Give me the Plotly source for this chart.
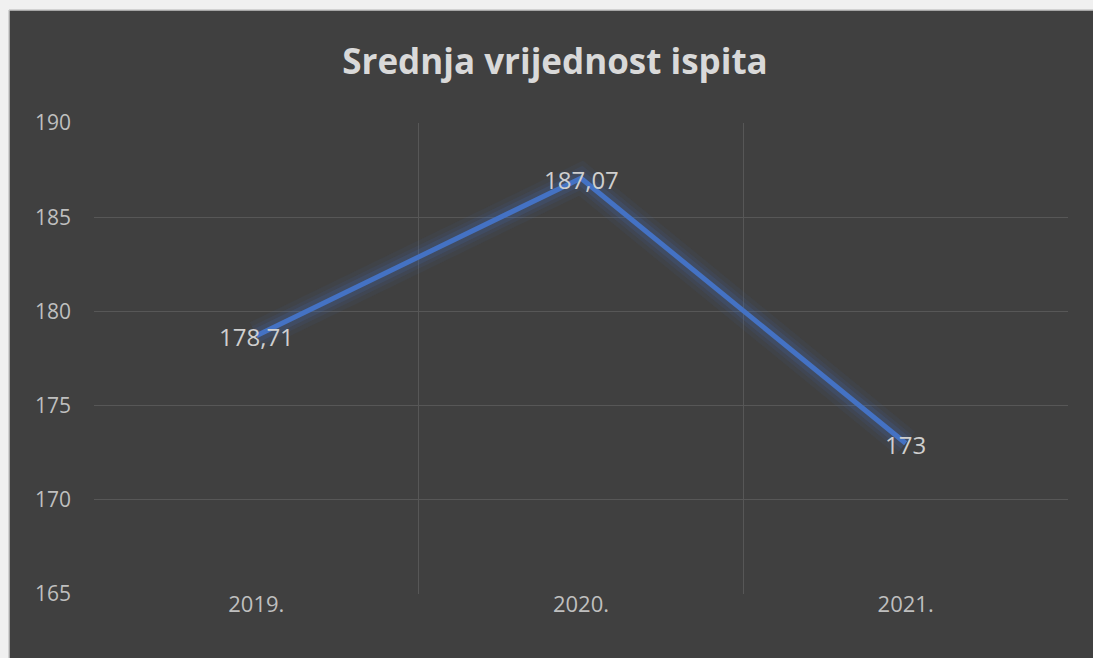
import plotly.graph_objects as go

categories = ["2019.", "2020.", "2021."]
values = [178.71, 187.07, 173]
y_ticks = [165, 170, 175, 180, 185, 190]
y_grid = [170, 175, 180, 185, 190]

title_text = "Srednja vrijednost ispita"
labels = [f"{v:g}".replace(".", ",") for v in values]
xpos = list(range(len(categories)))
x_bounds = [i - 0.5 for i in range(len(categories) + 1)]

BG = "#404040"
LINE = "#4472C4"
TXT = "#bfbfbf"
FONT = "Open Sans"

fig = go.Figure()
# glow layers
for w, a in [(30, 0.06), (21, 0.09), (14, 0.15)]:
    fig.add_trace(go.Scatter(x=xpos, y=values, mode="lines",
                             line=dict(color=f"rgba(68,114,196,{a})", width=w),
                             hoverinfo="skip", showlegend=False))
fig.add_trace(go.Scatter(x=xpos, y=values, mode="lines",
                         line=dict(color=LINE, width=5),
                         showlegend=False))
for xv, yv, lab in zip(xpos, values, labels):
    fig.add_annotation(x=xv, y=yv, text=lab, showarrow=False,
                       xanchor="center", yanchor="middle", yshift=-1,
                       font=dict(family=FONT, size=24, color="#cfcfcf"))

W, H = 1093, 658
ml, mr, mt, mb = 94, 25, 123, 64
pw = W - ml - mr
ph = H - mt - mb

def px_x(p):
    return (p - ml) / pw

def px_y(p):
    return 1 - (p - mt) / ph

# light frame at top/left of the image
fig.add_shape(type="rect", xref="paper", yref="paper",
              x0=px_x(-5), x1=px_x(9), y0=px_y(H + 5), y1=px_y(-5),
              fillcolor="#f0f0f0", line=dict(width=0), layer="above")
fig.add_shape(type="rect", xref="paper", yref="paper",
              x0=px_x(-5), x1=px_x(W + 5), y0=px_y(10), y1=px_y(-5),
              fillcolor="#f0f0f0", line=dict(width=0), layer="above")
fig.add_shape(type="line", xref="paper", yref="paper",
              x0=px_x(9), x1=px_x(W + 5), y0=px_y(10), y1=px_y(10),
              line=dict(color="#c8c8c8", width=1.5), layer="above")
fig.add_shape(type="line", xref="paper", yref="paper",
              x0=px_x(9), x1=px_x(9), y0=px_y(10), y1=px_y(H + 5),
              line=dict(color="#c8c8c8", width=1.5), layer="above")

fig.update_layout(
    width=W, height=H,
    margin=dict(l=ml, r=mr, t=mt, b=mb),
    paper_bgcolor=BG, plot_bgcolor=BG,
    title=dict(text=f"<b>{title_text}</b>", x=555 / W, xanchor="center",
               y=1 - 62 / H, yanchor="middle",
               font=dict(family=FONT, size=35, color="#d9d9d9")),
    font=dict(family=FONT, color=TXT),
)
fig.update_xaxes(range=[-0.5, len(categories) - 0.5],
                 tickvals=xpos, ticktext=categories,
                 showgrid=False, zeroline=False, showline=False,
                 ticks="", ticklabelstandoff=-5,
                 tickfont=dict(family=FONT, size=22, color=TXT),
                 minor=dict(tickvals=x_bounds, showgrid=True,
                            gridcolor="#575757", gridwidth=1, ticks=""))
fig.update_yaxes(range=[165, 190], tickvals=y_ticks,
                 showgrid=False, zeroline=False, showline=False,
                 ticks="", ticklabelstandoff=22,
                 tickfont=dict(family=FONT, size=21, color=TXT),
                 minor=dict(tickvals=y_grid, showgrid=True,
                            gridcolor="#575757", gridwidth=1, ticks=""))

fig.write_html("out.html",
               config={"displayModeBar": False},
               post_script="document.body.style.margin='0';document.body.style.overflow='hidden';")
